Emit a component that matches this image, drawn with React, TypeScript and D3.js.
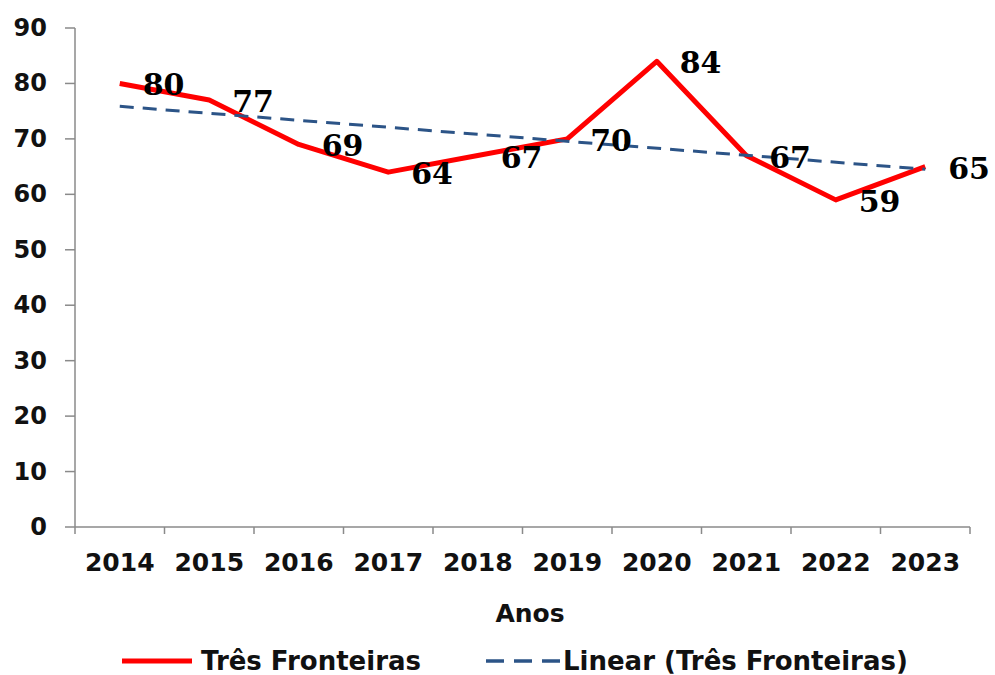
import React from "react";
import * as d3 from "d3";

const years = ["2014", "2015", "2016", "2017", "2018", "2019", "2020", "2021", "2022", "2023"];
const values = [80, 77, 69, 64, 67, 70, 84, 67, 59, 65];
const yTicks = [0, 10, 20, 30, 40, 50, 60, 70, 80, 90];
const seriesName = "Três Fronteiras";
const trendName = "Linear (Três Fronteiras)";
const axisTitle = "Anos";

const W = 995;
const H = 675;

export default function App() {
  const x = d3.scaleBand<string>().domain(years).range([75, 970]).paddingInner(0).paddingOuter(0);
  const y = d3.scaleLinear().domain([0, 90]).range([527, 28]);
  const cx = (yr: string) => (x(yr) as number) + x.bandwidth() / 2;

  // linear regression trendline
  const n = values.length;
  const idx = values.map((_, i) => i);
  const mx = d3.mean(idx) as number;
  const my = d3.mean(values) as number;
  const sxy = d3.sum(idx, (i) => (i - mx) * (values[i] - my));
  const sxx = d3.sum(idx, (i) => (i - mx) * (i - mx));
  const slope = sxy / sxx;
  const icpt = my - slope * mx;
  const trend = [0, n - 1].map((i) => ({ yr: years[i], v: icpt + slope * i }));

  const line = d3
    .line<number>()
    .x((_, i) => cx(years[i]))
    .y((d) => y(d));
  const tline = d3
    .line<{ yr: string; v: number }>()
    .x((d) => cx(d.yr))
    .y((d) => y(d.v));

  const axisColor = "#8a8a8a";
  const sans = "'DejaVu Sans', Verdana, sans-serif";
  const serif = "'DejaVu Serif', serif";
  const blue = "#2C5487";

  const xEdges = [...years.map((yr) => x(yr) as number), 970];

  return (
    <svg width={W} height={H} style={{ position: "absolute", left: 0, top: 0, background: "#fff" }}>
      {/* y axis */}
      <line x1={75} x2={75} y1={y(90)} y2={y(0)} stroke={axisColor} strokeWidth={1.5} />
      {yTicks.map((t) => (
        <g key={t}>
          <line x1={65} x2={75} y1={y(t)} y2={y(t)} stroke={axisColor} strokeWidth={1.5} />
          <text x={47} y={y(t) + 8} textAnchor="end" fontFamily={sans} fontWeight="bold" fontSize={24} fill="#111">
            {t}
          </text>
        </g>
      ))}
      {/* x axis */}
      <line x1={75} x2={970} y1={y(0)} y2={y(0)} stroke={axisColor} strokeWidth={1.5} />
      {xEdges.map((e, i) => (
        <line key={i} x1={e} x2={e} y1={y(0)} y2={y(0) + 7} stroke={axisColor} strokeWidth={1.5} />
      ))}
      {years.map((yr) => (
        <text key={yr} x={cx(yr)} y={571} textAnchor="middle" fontFamily={sans} fontWeight="bold" fontSize={25} fill="#111">
          {yr}
        </text>
      ))}
      <text x={530} y={622} textAnchor="middle" fontFamily={sans} fontWeight="bold" fontSize={25} fill="#111">
        {axisTitle}
      </text>

      {/* series */}
      <path d={line(values) || ""} fill="none" stroke="#FF0000" strokeWidth={5} strokeLinejoin="round" />
      <path d={tline(trend) || ""} fill="none" stroke={blue} strokeWidth={3} strokeDasharray="14 9" />

      {/* data labels */}
      {values.map((v, i) => (
        <text key={i} x={cx(years[i]) + 23} y={y(v) + 12} fontFamily={serif} fontWeight="bold" fontSize={30} fill="#000">
          {v}
        </text>
      ))}

      {/* legend */}
      <line x1={122} x2={192} y1={661} y2={661} stroke="#FF0000" strokeWidth={5} />
      <text x={201} y={670} fontFamily={sans} fontWeight="bold" fontSize={26} fill="#111">
        {seriesName}
      </text>
      <line x1={486} x2={560} y1={661} y2={661} stroke={blue} strokeWidth={3.5} strokeDasharray="18 10" />
      <text x={563} y={670} fontFamily={sans} fontWeight="bold" fontSize={26} fill="#111">
        {trendName}
      </text>
    </svg>
  );
}
